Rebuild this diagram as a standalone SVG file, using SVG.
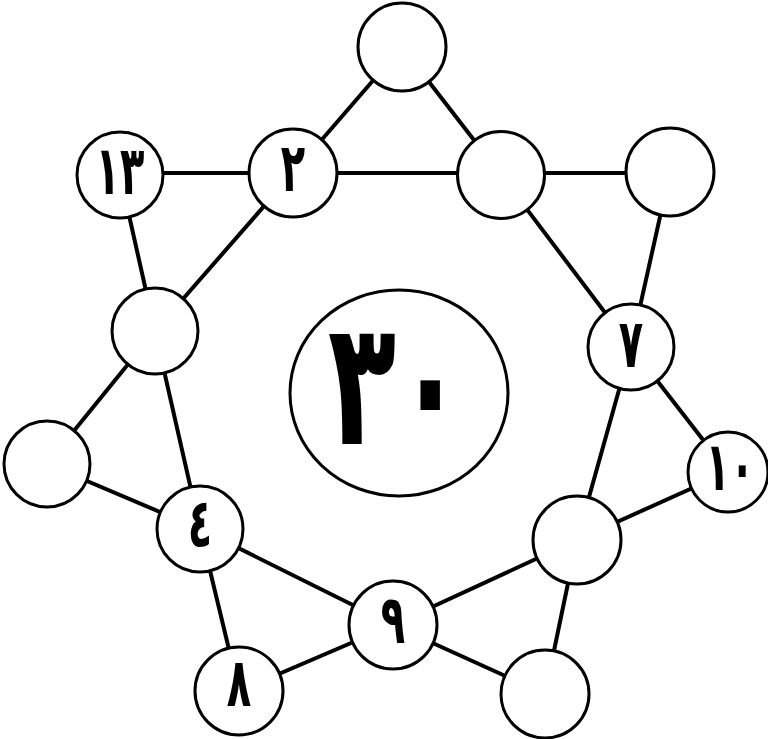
<svg xmlns="http://www.w3.org/2000/svg" width="768" height="739" viewBox="0 0 768 739">
<style>
.edge{stroke:#000;stroke-width:4;stroke-linecap:round}
.node{fill:#fff;stroke:#000;stroke-width:3}
.lbl{font-family:"DejaVu Sans",sans-serif;font-weight:bold;font-size:40px;text-anchor:middle;fill:#000}
.big{font-size:112px}
</style>
<rect width="768" height="739" fill="#fff"/>
<g id="connectors">
<line class="edge" x1="402" y1="47" x2="293" y2="173"/>
<line class="edge" x1="402" y1="47" x2="501" y2="175"/>
<line class="edge" x1="120" y1="173" x2="670" y2="173"/>
<line class="edge" x1="120" y1="175" x2="155" y2="331"/>
<line class="edge" x1="293" y1="173" x2="155" y2="331"/>
<line class="edge" x1="501" y1="175" x2="631" y2="347"/>
<line class="edge" x1="670" y1="172" x2="631" y2="347"/>
<line class="edge" x1="155" y1="331" x2="47" y2="464"/>
<line class="edge" x1="155" y1="331" x2="200" y2="529"/>
<line class="edge" x1="47" y1="464" x2="200" y2="529"/>
<line class="edge" x1="631" y1="347" x2="728" y2="472"/>
<line class="edge" x1="631" y1="347" x2="577" y2="540"/>
<line class="edge" x1="728" y1="472" x2="577" y2="540"/>
<line class="edge" x1="200" y1="529" x2="393" y2="625"/>
<line class="edge" x1="200" y1="529" x2="239" y2="691"/>
<line class="edge" x1="239" y1="691" x2="393" y2="625"/>
<line class="edge" x1="393" y1="625" x2="577" y2="540"/>
<line class="edge" x1="393" y1="625" x2="545" y2="694"/>
<line class="edge" x1="577" y1="540" x2="545" y2="694"/>
</g>
<g id="n-top"><circle class="node" cx="402" cy="47" r="44"/></g>
<g id="n13"><circle class="node" cx="120" cy="175" r="43"/><text class="lbl" transform="translate(120,194) scale(1,1.7)">١٣</text></g>
<g id="n2"><circle class="node" cx="293" cy="173" r="44"/><text class="lbl" transform="translate(293,191) scale(1,1.7)">٢</text></g>
<g id="n-tr"><circle class="node" cx="501" cy="175" r="43.5"/></g>
<g id="n-far-tr"><circle class="node" cx="670" cy="172" r="44"/></g>
<g id="n-left-in"><circle class="node" cx="155" cy="331" r="43"/></g>
<g id="n7"><circle class="node" cx="631" cy="347" r="43"/><text class="lbl" transform="translate(631,367) scale(1,1.7)">٧</text></g>
<g id="n30"><ellipse class="node" cx="399" cy="393" rx="109" ry="103"/><text class="lbl big" transform="translate(396,444) scale(1,1.55)">٣٠</text></g>
<g id="n-left-out"><circle class="node" cx="47" cy="464" r="43"/></g>
<g id="n10"><circle class="node" cx="728" cy="472" r="40"/><text class="lbl" transform="translate(730,490) scale(1,1.7)">١٠</text></g>
<g id="n4"><circle class="node" cx="200" cy="529" r="43"/><text class="lbl" transform="translate(200,547) scale(1,1.7)">٤</text></g>
<g id="n-right-in"><circle class="node" cx="577" cy="540" r="44"/></g>
<g id="n9"><circle class="node" cx="393" cy="625" r="44"/><text class="lbl" transform="translate(393,643) scale(1,1.7)">٩</text></g>
<g id="n8"><circle class="node" cx="239" cy="691" r="44"/><text class="lbl" transform="translate(239,706) scale(1,1.7)">٨</text></g>
<g id="n-bottom-r"><circle class="node" cx="545" cy="694" r="44"/></g>
</svg>
